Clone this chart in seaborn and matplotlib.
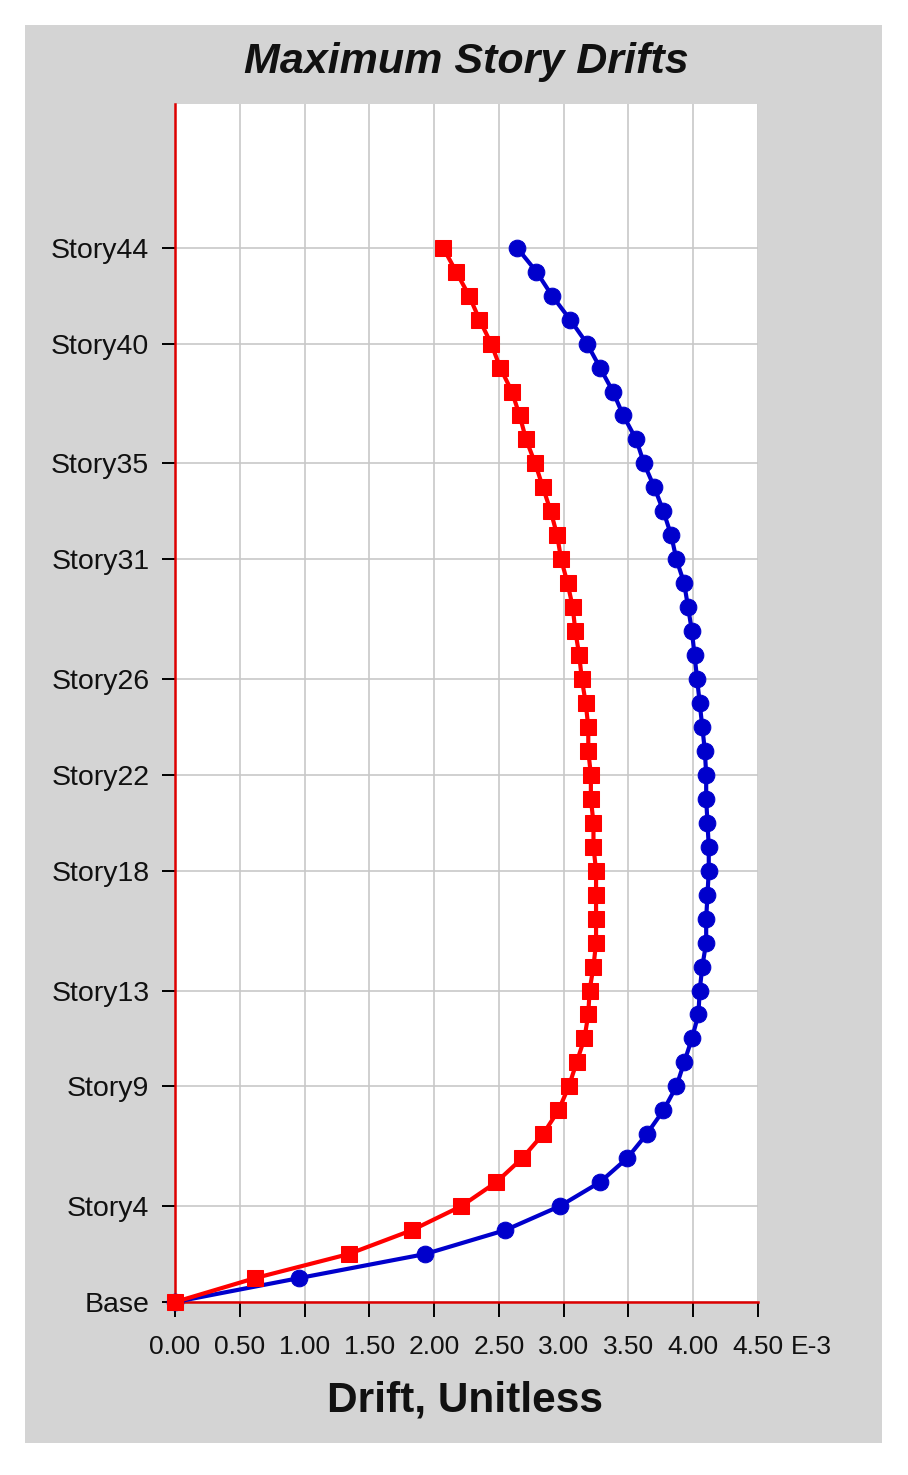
import numpy as np
import pandas as pd
import matplotlib
matplotlib.use('Agg')
import matplotlib.pyplot as plt
import seaborn as sns
from matplotlib.patches import Rectangle

# Datos: deriva máxima por piso (E-3)
stories = list(range(0, 45))
drift_red = [0.00, 0.62, 1.34, 1.83, 2.21, 2.48, 2.68, 2.84, 2.96, 3.04,
             3.10, 3.16, 3.19, 3.20, 3.23, 3.25, 3.25, 3.25, 3.25, 3.23,
             3.23, 3.21, 3.21, 3.19, 3.19, 3.17, 3.14, 3.12, 3.09, 3.07,
             3.03, 2.98, 2.95, 2.90, 2.84, 2.78, 2.71, 2.66, 2.60, 2.51,
             2.44, 2.35, 2.27, 2.17, 2.07]
drift_blue = [0.00, 0.96, 1.93, 2.55, 2.97, 3.28, 3.49, 3.64, 3.77, 3.87,
              3.93, 3.99, 4.04, 4.05, 4.07, 4.10, 4.10, 4.11, 4.12, 4.12,
              4.11, 4.10, 4.10, 4.09, 4.07, 4.05, 4.03, 4.01, 3.99, 3.96,
              3.93, 3.87, 3.83, 3.77, 3.70, 3.62, 3.56, 3.46, 3.38, 3.28,
              3.18, 3.05, 2.91, 2.79, 2.64]
ytick_pos = [0, 4, 9, 13, 18, 22, 26, 31, 35, 40, 44]
ytick_labels = ['Base', 'Story4', 'Story9', 'Story13', 'Story18', 'Story22',
                'Story26', 'Story31', 'Story35', 'Story40', 'Story44']
xticks = [0.0, 0.5, 1.0, 1.5, 2.0, 2.5, 3.0, 3.5, 4.0, 4.5]

df_red = pd.DataFrame({'drift': drift_red, 'story': stories})
df_blue = pd.DataFrame({'drift': drift_blue, 'story': stories})

sns.set_style('white')
plt.rcParams['font.family'] = ['Liberation Sans', 'DejaVu Sans']

W, H = 908, 1475
fig = plt.figure(figsize=(W / 100, H / 100), dpi=100)
fig.patch.set_facecolor('white')

# Panel gris de fondo
fig.patches.append(Rectangle((25 / W, 1 - 1443 / H), (882 - 25) / W, (1443 - 25) / H,
                             transform=fig.transFigure, facecolor='#d4d4d4',
                             edgecolor='none', zorder=-10))

ax = fig.add_axes([175 / W, 1 - 1302 / H, (758 - 175) / W, (1302 - 104) / H])
ax.set_zorder(5)
ax.set_facecolor('white')

sns.lineplot(data=df_blue, x='drift', y='story', orient='y', sort=False,
             estimator=None, ax=ax, color='#0000cc', linewidth=3,
             marker='o', markersize=12, markeredgecolor='#0000cc',
             clip_on=False, zorder=3)
sns.lineplot(data=df_red, x='drift', y='story', orient='y', sort=False,
             estimator=None, ax=ax, color='#ff0000', linewidth=3,
             marker='s', markersize=11, markeredgecolor='#ff0000',
             clip_on=False, zorder=4)

ax.set_xlim(0, 4.5)
ax.set_ylim(0, 50)
ax.set_xticks(xticks)
ax.set_xticklabels([f'{v:.2f}' for v in xticks], fontsize=19)
ax.set_yticks(ytick_pos)
ax.set_yticklabels(ytick_labels, fontsize=20.5)
ax.set_xlabel('')
ax.set_ylabel('')

ax.grid(True, color='#c8c8c8', linewidth=1.2)
ax.set_axisbelow(True)
for s in ['top', 'right']:
    ax.spines[s].set_visible(False)
for s in ['left', 'bottom']:
    ax.spines[s].set_color('#dd0000')
    ax.spines[s].set_linewidth(1.8)
ax.tick_params(axis='both', direction='out', color='black', width=1.4,
               labelcolor='#111111', left=True, bottom=True)
ax.tick_params(axis='x', length=11, pad=13)
ax.tick_params(axis='y', length=9.5, pad=9)

fig.text(791 / W, 1 - 1347 / H, 'E-3', fontsize=19, ha='left', va='center', color='#111111')
fig.text(466 / W, 1 - 62 / H, 'Maximum Story Drifts', fontsize=31, fontweight='bold',
         fontstyle='italic', ha='center', va='center', color='#111111')
fig.text(465 / W, 1 - 1400 / H, 'Drift, Unitless', fontsize=30.5, fontweight='bold',
         ha='center', va='center', color='#111111')

plt.savefig('out.png', dpi=100, facecolor='white')
